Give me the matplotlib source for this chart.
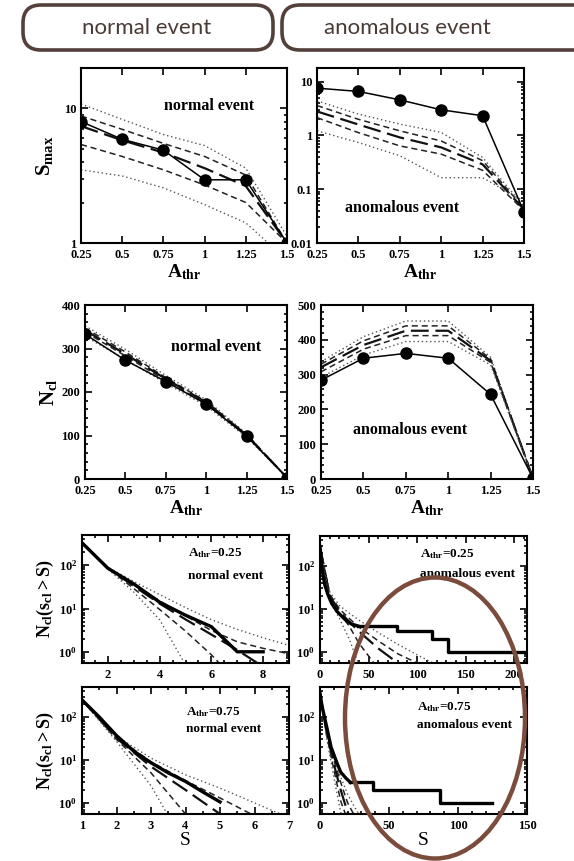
import matplotlib
matplotlib.use('Agg')
import matplotlib.pyplot as plt
from matplotlib.patches import FancyBboxPatch, Ellipse
from matplotlib.ticker import MultipleLocator, LogLocator, NullFormatter, LogFormatterMathtext, FixedLocator, FixedFormatter

plt.rcParams['font.family'] = ['Liberation Serif', 'DejaVu Serif']
plt.rcParams['font.weight'] = 'bold'
plt.rcParams['mathtext.fontset'] = 'custom'
plt.rcParams['mathtext.rm'] = 'Liberation Serif:bold'
plt.rcParams['mathtext.it'] = 'Liberation Serif:italic:bold'
plt.rcParams['mathtext.bf'] = 'Liberation Serif:bold'

# ---- datos ----
athr = [0.25, 0.5, 0.75, 1.0, 1.25, 1.5]

# S_max, evento normal (puntos) y curvas de referencia (punteada, rayada, media, rayada, punteada)
smax_normal = [8.0, 5.9, 4.9, 2.95, 2.95, 1.0]
smax_normal_ref = [
    [10.8, 8.3, 6.4, 5.3, 3.6, 1.12],
    [8.8, 7.0, 5.5, 4.4, 3.2, 1.0],
    [7.4, 5.8, 4.7, 3.6, 2.65, 1.0],
    [5.4, 4.4, 3.5, 2.7, 2.0, 1.0],
    [3.5, 3.15, 2.57, 1.93, 1.41, 0.75],
]
# S_max, evento anomalo
smax_anom = [7.6, 6.6, 4.6, 3.0, 2.33, 0.038]
smax_anom_ref = [
    [4.4, 2.5, 1.63, 1.14, 0.39, 0.048],
    [3.6, 2.0, 1.22, 0.79, 0.34, 0.044],
    [2.8, 1.6, 0.92, 0.60, 0.29, 0.042],
    [2.15, 1.13, 0.64, 0.45, 0.225, 0.040],
    [1.22, 0.74, 0.42, 0.164, 0.164, 0.06],
]
# N_cl
ncl_normal = [333, 273, 224, 172, 99, 3]
ncl_normal_ref = [
    [352, 298, 238, 182, 104, 3],
    [347, 292, 233, 178, 102, 3],
    [342, 287, 230, 176, 101, 3],
    [338, 283, 226, 173, 99, 3],
    [328, 275, 220, 168, 96, 3],
]
ncl_anom = [284, 347, 361, 347, 243, 2]
ncl_anom_ref = [
    [337, 409, 454, 454, 350, 2],
    [330, 397, 440, 440, 345, 2],
    [321, 385, 426, 426, 340, 2],
    [308, 373, 412, 412, 335, 2],
    [292, 356, 395, 395, 328, 2],
]

# distribuciones acumuladas, A_thr=0.25 normal
s_n25 = [1, 2, 3, 4, 5, 6, 7, 8]
n_n25 = [330, 85, 37, 14, 7, 3.8, 1, 1]
s_n25_ref = [1, 2, 3, 4, 5, 6, 7, 8, 9]
n_n25_ref = [
    [330, 90, 42, 21, 10.5, 5.5, 3.3, 2.1, 1.4],
    [330, 88, 36, 15, 6.8, 3.1, 1.7, 1.2, 0.9],
    [330, 87, 33, 13, 5.6, 2.5, 1.1, 0.45, 0.2],
    [330, 85, 29, 9.5, 3.0, 0.85, 0.2, 0.1, 0.1],
    [330, 82, 24, 5.5, 0.5, 0.1, 0.1, 0.1, 0.1],
]
# A_thr=0.25 anomalo
s_a25 = [0, 1, 2, 3, 5, 8, 12, 18, 25, 32, 39]
n_a25 = [284, 160, 95, 65, 36, 22, 13.5, 8.5, 5.9, 4.5, 4]
s_a25_tail = [39, 79, 115, 132, 210]
n_a25_tail = [4, 3, 2, 1, 1]
s_a25_ref = [0, 10, 20, 30, 40, 60, 80, 100, 120]
n_a25_ref = [
    [284, 25, 12, 8, 5.5, 2.8, 1.5, 0.85, 0.5],
    [284, 22, 10, 6, 3.8, 1.8, 0.9, 0.55, 0.3],
    [284, 20, 9, 5, 3, 1.2, 0.55, 0.3, 0.2],
    [284, 18, 8, 4, 1.6, 0.4, 0.2, 0.1, 0.1],
    [284, 15, 6, 2, 0.5, 0.1, 0.1, 0.1, 0.1],
]
# A_thr=0.75 normal
s_n75 = [1, 1.5, 2, 2.5, 3, 3.5, 4, 4.5, 5]
n_n75 = [250, 100, 37, 16, 8.6, 5, 3.15, 1.8, 1.05]
s_n75_ref = [1, 2, 3, 4, 5, 6, 7]
n_n75_ref = [
    [250, 36, 11, 4.5, 2.2, 1.0, 0.45],
    [250, 34, 9, 3.3, 1.3, 0.5, 0.2],
    [250, 32, 7, 2.0, 0.55, 0.2, 0.1],
    [250, 30, 5, 0.55, 0.1, 0.1, 0.1],
    [250, 27, 2.5, 0.1, 0.1, 0.1, 0.1],
]
# A_thr=0.75 anomalo
s_a75 = [0, 1, 2, 5, 8, 12, 15, 19, 22]
n_a75 = [360, 220, 150, 56, 20, 9, 5.2, 3.7, 3]
s_a75_tail = [22, 38.4, 87, 125]
n_a75_tail = [3, 2, 1, 1]
s_a75_ref = [0, 5, 10, 15, 20, 25, 30]
n_a75_ref = [
    [360, 50, 12, 4, 1.6, 0.8, 0.45],
    [360, 45, 10, 3, 1.0, 0.5, 0.3],
    [360, 40, 8, 2, 0.6, 0.3, 0.2],
    [360, 35, 6, 1.1, 0.4, 0.2, 0.1],
    [360, 30, 4, 0.6, 0.2, 0.1, 0.1],
]

W, H = 574, 861
fig = plt.figure(figsize=(W / 100, H / 100), dpi=100)


def caja(l, t, r, b):
    return [l / W, 1 - b / H, (r - l) / W, (b - t) / H]


estilos = [
    dict(ls=(0, (1, 2)), color='#555555', lw=1.0),
    dict(ls=(0, (4, 2.5)), color='#222222', lw=1.1),
    dict(ls=(0, (8, 3)), color='#111111', lw=1.6),
    dict(ls=(0, (4, 2.5)), color='#222222', lw=1.1),
    dict(ls=(0, (1, 2)), color='#555555', lw=1.0),
]


def referencias(ax, x, curvas):
    for c, e in zip(curvas, estilos):
        ax.plot(x, c, **e)


def formato(ax):
    for s in ax.spines.values():
        s.set_linewidth(1.5)
    ax.tick_params(which='both', direction='in', top=True, right=True,
                   labelsize=9, width=1.2)
    ax.tick_params(which='major', length=5)
    ax.tick_params(which='minor', length=2.5)
    ax.tick_params(axis='x', pad=4.5)


def ejes_athr(ax):
    ax.set_xlim(0.25, 1.5)
    ax.set_xticks(athr)
    ax.set_xticklabels(['0.25', '0.5', '0.75', '1', '1.25', '1.5'])
    ax.set_xlabel(r'$\mathrm{A_{thr}}$', fontsize=14, labelpad=1)


def ejes_log(ax):
    ax.set_yscale('log')
    ax.set_ylim(0.55, 500)
    ax.yaxis.set_major_locator(FixedLocator([1, 10, 100]))
    ax.yaxis.set_major_formatter(LogFormatterMathtext())
    ax.yaxis.set_minor_locator(LogLocator(base=10, subs=range(2, 10)))
    ax.yaxis.set_minor_formatter(NullFormatter())


# ---- fila 1: S_max ----
ax1 = fig.add_axes(caja(81, 68, 287, 243))
referencias(ax1, athr, smax_normal_ref)
ax1.plot(athr, smax_normal, 'k-', marker='o', ms=8, lw=1.1)
ax1.set_yscale('log')
ax1.set_ylim(1, 20)
ax1.yaxis.set_major_locator(FixedLocator([1, 10]))
ax1.yaxis.set_major_formatter(FixedFormatter(['1', '10']))
ax1.yaxis.set_minor_locator(LogLocator(base=10, subs=range(2, 10)))
ax1.yaxis.set_minor_formatter(NullFormatter())
ejes_athr(ax1)
ax1.set_ylabel(r'$\mathrm{S_{max}}$', fontsize=15, labelpad=6)
ax1.text(0.62, 0.78, 'normal event', transform=ax1.transAxes, ha='center',
         va='center', fontsize=11.5)
ax1.set_xlim(0.25, 1.5)
formato(ax1)

ax2 = fig.add_axes(caja(317, 68, 524, 243))
referencias(ax2, athr, smax_anom_ref)
ax2.plot(athr, smax_anom, 'k-', marker='o', ms=8, lw=1.1)
ax2.set_yscale('log')
ax2.set_ylim(0.01, 18)
ax2.yaxis.set_major_locator(FixedLocator([0.01, 0.1, 1, 10]))
ax2.yaxis.set_major_formatter(FixedFormatter(['0.01', '0.1', '1', '10']))
ax2.yaxis.set_minor_locator(LogLocator(base=10, subs=range(2, 10)))
ax2.yaxis.set_minor_formatter(NullFormatter())
ejes_athr(ax2)
ax2.text(0.41, 0.2, 'anomalous event', transform=ax2.transAxes, ha='center',
         va='center', fontsize=11.5)
formato(ax2)

# ---- fila 2: N_cl ----
ax3 = fig.add_axes(caja(85, 305, 287, 479))
referencias(ax3, athr, ncl_normal_ref)
ax3.plot(athr, ncl_normal, 'k-', marker='o', ms=8, lw=1.1)
ax3.set_ylim(0, 400)
ax3.yaxis.set_major_locator(MultipleLocator(100))
ax3.yaxis.set_minor_locator(MultipleLocator(20))
ejes_athr(ax3)
ax3.set_ylabel(r'$\mathrm{N_{cl}}$', fontsize=15, labelpad=2)
ax3.text(0.65, 0.76, 'normal event', transform=ax3.transAxes, ha='center',
         va='center', fontsize=11.5)
formato(ax3)

ax4 = fig.add_axes(caja(321, 305, 533, 479))
referencias(ax4, athr, ncl_anom_ref)
ax4.plot(athr, ncl_anom, 'k-', marker='o', ms=8, lw=1.1)
ax4.set_ylim(0, 500)
ax4.yaxis.set_major_locator(MultipleLocator(100))
ax4.yaxis.set_minor_locator(MultipleLocator(20))
ejes_athr(ax4)
ax4.text(0.42, 0.28, 'anomalous event', transform=ax4.transAxes, ha='center',
         va='center', fontsize=11.5)
formato(ax4)

# ---- fila 3: A_thr=0.25 ----
ax5 = fig.add_axes(caja(82, 535, 289, 663))
referencias(ax5, s_n25_ref, n_n25_ref)
ax5.plot(s_n25, n_n25, 'k-', lw=2.4)
ejes_log(ax5)
ax5.set_xlim(1, 9)
ax5.set_xticks([2, 4, 6, 8])
ax5.xaxis.set_minor_locator(MultipleLocator(0.5))
ax5.set_ylabel(r'$\mathrm{N_{cl}(s_{cl}>S)}$', fontsize=13, labelpad=2)
ax5.text(0.51, 0.86, r'$\mathrm{A_{thr}}$=0.25', transform=ax5.transAxes,
         ha='left', va='center', fontsize=9.5)
ax5.text(0.51, 0.68, 'normal event', transform=ax5.transAxes,
         ha='left', va='center', fontsize=9.5)
formato(ax5)

ax6 = fig.add_axes(caja(320, 536, 527, 663))
referencias(ax6, s_a25_ref, n_a25_ref)
ax6.plot(s_a25, n_a25, 'k-', lw=2.4)
ax6.step(s_a25_tail, n_a25_tail, 'k-', where='post', lw=2.4)
ejes_log(ax6)
ax6.set_xlim(0, 213)
ax6.set_xticks([0, 50, 100, 150, 200])
ax6.xaxis.set_minor_locator(MultipleLocator(10))
ax6.text(0.485, 0.86, r'$\mathrm{A_{thr}}$=0.25', transform=ax6.transAxes,
         ha='left', va='center', fontsize=9.5)
ax6.text(0.485, 0.70, 'anomalous event', transform=ax6.transAxes,
         ha='left', va='center', fontsize=9.5)
formato(ax6)

# ---- fila 4: A_thr=0.75 ----
ax7 = fig.add_axes(caja(82, 687, 289, 814))
referencias(ax7, s_n75_ref, n_n75_ref)
ax7.plot(s_n75, n_n75, 'k-', lw=2.4)
ejes_log(ax7)
ax7.set_xlim(1, 7)
ax7.set_xticks([1, 2, 3, 4, 5, 6, 7])
ax7.xaxis.set_minor_locator(MultipleLocator(0.5))
ax7.set_xlabel('S', fontsize=14, labelpad=0)
ax7.set_ylabel(r'$\mathrm{N_{cl}(s_{cl}>S)}$', fontsize=13, labelpad=2)
ax7.text(0.50, 0.80, r'$\mathrm{A_{thr}}$=0.75', transform=ax7.transAxes,
         ha='left', va='center', fontsize=9.5)
ax7.text(0.50, 0.67, 'normal event', transform=ax7.transAxes,
         ha='left', va='center', fontsize=9.5)
formato(ax7)

ax8 = fig.add_axes(caja(320, 687, 527, 814))
referencias(ax8, s_a75_ref, n_a75_ref)
ax8.plot(s_a75, n_a75, 'k-', lw=2.4)
ax8.step(s_a75_tail, n_a75_tail, 'k-', where='post', lw=2.4)
ejes_log(ax8)
ax8.set_xlim(0, 150)
ax8.set_xticks([0, 50, 100, 150])
ax8.xaxis.set_minor_locator(MultipleLocator(10))
ax8.set_xlabel('S', fontsize=14, labelpad=0)
ax8.text(0.47, 0.84, r'$\mathrm{A_{thr}}$=0.75', transform=ax8.transAxes,
         ha='left', va='center', fontsize=9.5)
ax8.text(0.47, 0.70, 'anomalous event', transform=ax8.transAxes,
         ha='left', va='center', fontsize=9.5)
formato(ax8)

# ---- cabecera y elipse ----
marron = '#54403a'
for x0, x1, texto, xc in [(23, 273, 'normal event', 147),
                          (282, 600, 'anomalous event', 407)]:
    p = FancyBboxPatch(((x0 + 18) / 100, (H - 50 + 18) / 100),
                       (x1 - x0 - 36) / 100, (45 - 36) / 100,
                       boxstyle='round,pad=0.18', transform=fig.dpi_scale_trans,
                       fc='white', ec=marron, lw=2.6)
    fig.add_artist(p)
    fig.text(xc / W, 1 - 28 / H, texto, ha='center', va='center',
             fontsize=16, family='Lato', weight='normal', color='#4a3a35')

elipse = Ellipse((435 / 100, (H - 718) / 100), 1.80, 2.81,
                 transform=fig.dpi_scale_trans, fill=False,
                 ec='#7b4b3b', lw=3.2, zorder=10)
fig.add_artist(elipse)

plt.savefig('out.png', dpi=100)
